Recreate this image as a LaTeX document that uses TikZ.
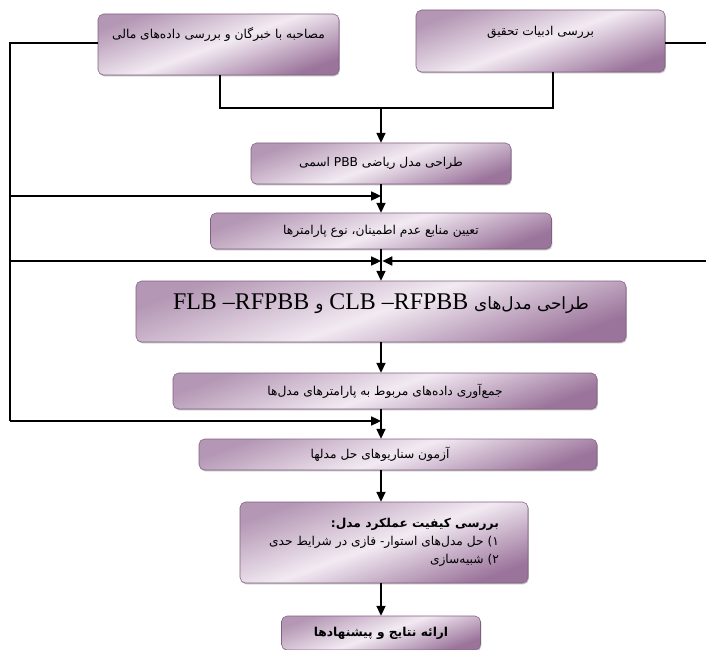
\documentclass[tikz,border=0pt]{standalone}
\usepackage{fontspec}
\setmainfont{Liberation Serif}
\newfontfamily\fa[Script=Arabic]{DejaVu Sans}
\TeXXeTstate=1
\usetikzlibrary{arrows.meta,shadows}
\definecolor{boxdark}{RGB}{155,116,155}
\definecolor{boxlight}{RGB}{242,234,242}
\definecolor{boxedge}{RGB}{130,95,130}
\newcommand{\px}{0.025cm}
\newcommand{\fatext}[1]{{\fa\beginR #1\endR}}
\tikzset{
  stage/.style={draw=boxedge, line width=0.4pt, rounded corners=4pt,
    top color=boxdark!75, bottom color=boxdark, middle color=boxlight, shading angle=20,
    drop shadow={shadow xshift=0.6pt, shadow yshift=-1pt, fill=black!50},
    font=\fa\fontsize{8.7}{10}\selectfont, inner sep=2pt},
  flow/.style={-{Triangle[length=7pt,width=6.5pt]}, line width=0.9pt},
  rail/.style={line width=0.9pt}
}
\begin{document}
\begin{tikzpicture}[x=\px,y=-\px]
  \useasboundingbox (0,0) rectangle (706,650);
  % first row
  \node[stage, minimum width=241*\px, minimum height=61*\px, text depth=0.55cm] (expert) at (218.5,44.5) {\fatext{مصاحبه با خبرگان و بررسی داده‌های مالی}};
  \node[stage, minimum width=249*\px, minimum height=62*\px, text depth=0.5cm] (lit) at (540.5,41) {\fatext{بررسی ادبیات تحقیق}};
  % spine
  \node[stage, minimum width=260*\px, minimum height=41*\px] (pbb) at (381,163.5) {\fatext{طراحی مدل ریاضی \beginL PBB\endL{} اسمی}};
  \node[stage, minimum width=341*\px, minimum height=36*\px] (uncert) at (381,231) {\fatext{تعیین منابع عدم اطمینان، نوع پارامترها}};
  \node[stage, minimum width=490*\px, minimum height=61*\px, text depth=0.5cm, font=\fontsize{17}{20}\selectfont] (rfpbb) at (381,311.5)
    {FLB –RFPBB {\fa\fontsize{12}{14}\selectfont\beginR و\endR} CLB –RFPBB {\fa\fontsize{12}{14}\selectfont\beginR طراحی مدل‌های\endR}};
  \node[stage, minimum width=424*\px, minimum height=36*\px] (collect) at (385,391) {\fatext{جمع‌آوری داده‌های مربوط به پارامترهای مدل‌ها}};
  \node[stage, minimum width=398*\px, minimum height=31*\px] (scen) at (398,454.5) {\fatext{آزمون سناریوهای حل مدلها}\hspace*{0.9cm}};
  \node[stage, minimum width=288*\px, minimum height=81*\px, align=right, font=\fa\fontsize{8.7}{13}\selectfont] (perf) at (384,542.5)
    {{\bfseries\fatext{بررسی کیفیت عملکرد مدل:}}\\ \fatext{۱) حل مدل‌های استوار- فازی در شرایط حدی}\\ \fatext{۲) شبیه‌سازی}};
  \node[stage, minimum width=199*\px, minimum height=34*\px, font=\fa\bfseries\fontsize{8.7}{10}\selectfont] (result) at (381,633) {\fatext{ارائه نتایج و پیشنهادها}};
  % join of the first row
  \coordinate (joinL) at (220,108);
  \coordinate (joinR) at (553,108);
  \coordinate (join) at (381,108);
  \draw[rail] (expert.south -| joinL) -- (joinL) -- (joinR) -- (lit.south -| joinR);
  \draw[flow] (join) -- (pbb.north);
  % rails
  \coordinate (railL) at (10,43);
  \coordinate (railR) at (708,43);
  \coordinate (spineA) at (381,196);
  \coordinate (spineB) at (381,261);
  \coordinate (spineC) at (381,421);
  \draw[rail] (expert.west |- railL) -- (railL) -- (railL |- spineC);
  \draw[rail] (lit.east |- railR) -- (railR) -- (railR |- spineB);
  \draw[flow] (railL |- spineA) -- (spineA);
  \draw[flow] (railL |- spineB) -- (spineB);
  \draw[flow] (railL |- spineC) -- (spineC);
  \draw[flow] (railR |- spineB) -- ([xshift=1pt]spineB);
  % spine arrows
  \draw[flow] (pbb.south) -- (uncert.north);
  \draw[flow] (uncert.south) -- (rfpbb.north);
  \draw[flow] (rfpbb.south) -- (rfpbb.south |- collect.north);
  \draw[flow] (spineC |- collect.south) -- (spineC |- scen.north);
  \draw[flow] (spineC |- scen.south) -- (spineC |- perf.north);
  \draw[flow] (spineC |- perf.south) -- (result.north);
\end{tikzpicture}
\end{document}
